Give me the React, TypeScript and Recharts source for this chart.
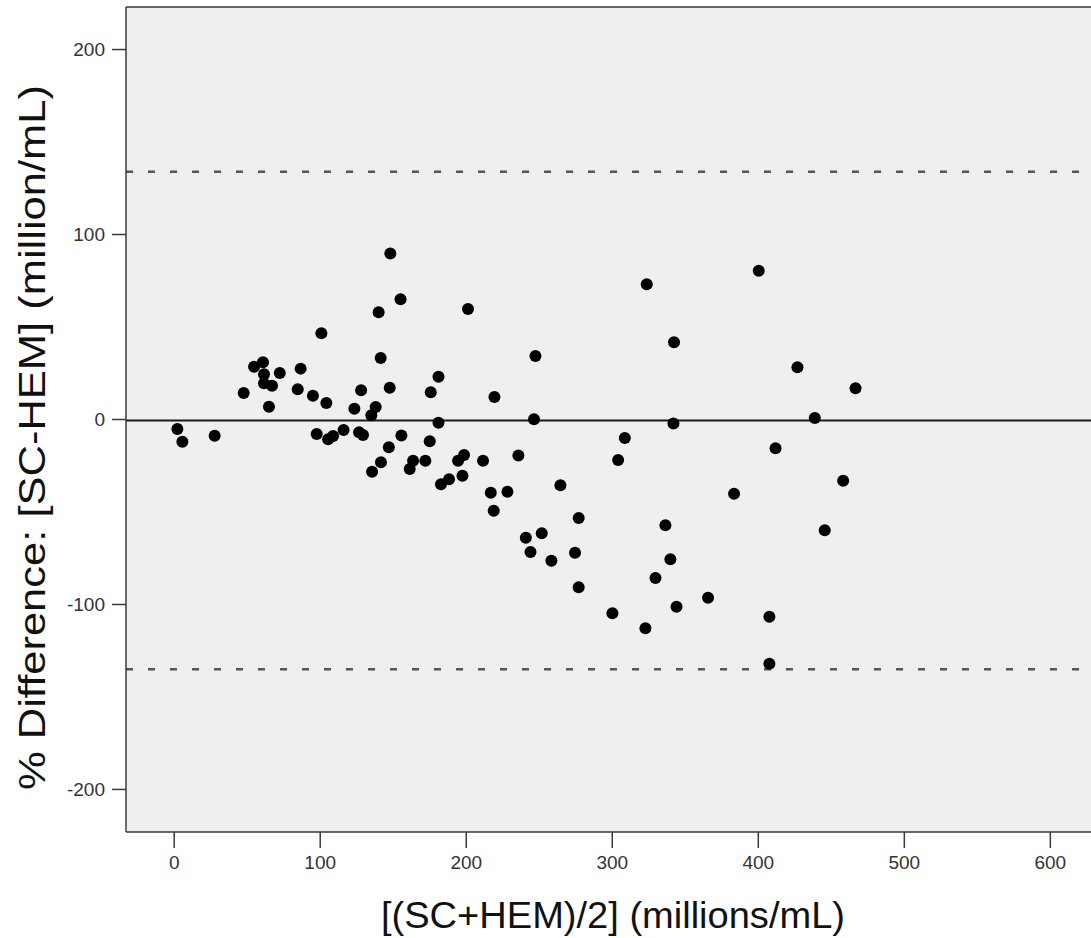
import {
  ScatterChart,
  Scatter,
  XAxis,
  YAxis,
  CartesianGrid,
  ReferenceLine,
  Label,
} from "recharts";

// Bland-Altman: mean of the two methods vs. difference
const meanValues = [
  2.2, 5.6, 27.7, 47.6, 54.7, 60.8, 61.5, 61.5, 64.9, 67, 72.3, 84.6, 86.6, 95,
  97.6, 100.8, 104.2, 105.4, 108.8, 116, 123.4, 126.6, 128, 129.3, 135, 135.5,
  138, 140, 141.4, 141.6, 147, 147.6, 148, 155, 155.6, 161.3, 163.6, 172, 175,
  175.7, 181, 181, 182.7, 188.2, 194.4, 197.4, 198.5, 201.2, 211.5, 216.8,
  218.8, 219.3, 228.2, 235.7, 240.8, 244, 246.4, 247.4, 251.7, 258.3, 264.5,
  274.5, 277, 277, 300.1, 304, 308.6, 322.7, 323.6, 329.6, 336.4, 339.8, 341.9,
  342.3, 344, 365.6, 383.4, 400.3, 407.6, 407.6, 411.8, 426.8, 438.7, 445.5,
  458.1, 466.6,
];
const diffValues = [
  -5.1, -12, -8.8, 14.3, 28.5, 30.9, 24.4, 19.6, 6.9, 18.3, 25.1, 16.3, 27.5,
  12.9, -7.8, 46.6, 8.9, -10.7, -8.9, -5.7, 5.8, -6.9, 15.8, -8.4, 2.3, -28.2,
  6.8, 58, 33.2, -23.1, -15, 17.2, 89.8, 65, -8.7, -26.8, -22.3, -22.3, -11.8,
  14.7, 23.1, -1.7, -35, -32.3, -22.3, -30.4, -19.2, 59.7, -22.3, -39.6, -49.3,
  12.2, -39, -19.5, -63.9, -71.6, 0.1, 34.3, -61.5, -76.3, -35.6, -72, -53.2,
  -90.7, -104.8, -21.9, -10, -112.9, 73.1, -85.7, -57.2, -75.6, -2.1, 41.7,
  -101.2, -96.3, -40.1, 80.4, -106.6, -132, -15.5, 28.2, 0.8, -59.9, -33.1,
  16.9,
];

const meanDiff = -0.5;
const upperLimit = 134;
const lowerLimit = -135;

const xTicks = [0, 100, 200, 300, 400, 500, 600];
const yTicks = [-200, -100, 0, 100, 200];

const points = meanValues.map((x, i) => ({ x, y: diffValues[i] }));

const font = "'Liberation Sans', Arial, sans-serif";
const axisColor = "#3a3a3a";

function XTitle({ viewBox }: any) {
  const cx = viewBox.x + viewBox.width / 2;
  return (
    <text
      x={cx}
      y={viewBox.y + 96}
      textAnchor="middle"
      fontFamily={font}
      fontSize={36}
      textLength={464}
      lengthAdjust="spacingAndGlyphs"
      fill="#111"
    >
      [(SC+HEM)/2] (millions/mL)
    </text>
  );
}

function YTitle({ viewBox }: any) {
  const cy = viewBox.y + viewBox.height / 2 + 18;
  const x = 45;
  return (
    <text
      x={x}
      y={cy}
      transform={`rotate(-90 ${x} ${cy})`}
      textAnchor="middle"
      fontFamily={font}
      fontSize={37}
      textLength={705}
      lengthAdjust="spacingAndGlyphs"
      fill="#111"
    >
      % Difference: [SC-HEM] (million/mL)
    </text>
  );
}

const Dot = (props: any) => (
  <circle cx={props.cx} cy={props.cy} r={6} fill="#000" />
);

export default function App() {
  return (
    <div
      style={{
        position: "absolute",
        left: 0,
        top: 0,
        width: 1091,
        height: 938,
        overflow: "hidden",
        background: "#fff",
      }}
    >
      <ScatterChart
        width={1100}
        height={938}
        margin={{ top: 7, right: 0, left: 0, bottom: 0 }}
      >
        <CartesianGrid fill="#efefef" horizontal={false} vertical={false} />
        <XAxis
          type="number"
          dataKey="x"
          domain={[-33, 634]}
          ticks={xTicks}
          allowDataOverflow
          height={106}
          tickSize={16}
          tickMargin={8}
          stroke={axisColor}
          axisLine={{ stroke: axisColor, strokeWidth: 1.5 }}
          tickLine={{ stroke: axisColor, strokeWidth: 1.5 }}
          tick={{ fill: "#333", fontSize: 19, fontFamily: font }}
        >
          <Label content={<XTitle />} />
        </XAxis>
        <YAxis
          type="number"
          dataKey="y"
          domain={[-223, 223]}
          ticks={yTicks}
          allowDataOverflow
          width={126}
          tickSize={14}
          tickMargin={7}
          stroke={axisColor}
          axisLine={{ stroke: axisColor, strokeWidth: 1.5 }}
          tickLine={{ stroke: axisColor, strokeWidth: 1.5 }}
          tick={{ fill: "#333", fontSize: 19, fontFamily: font }}
        >
          <Label content={<YTitle />} />
        </YAxis>
        <ReferenceLine y={223} stroke={axisColor} strokeWidth={1.5} />
        <ReferenceLine
          y={upperLimit}
          stroke="#555"
          strokeWidth={2.5}
          strokeDasharray="7 15"
        />
        <ReferenceLine
          y={lowerLimit}
          stroke="#555"
          strokeWidth={2.5}
          strokeDasharray="7 15"
        />
        <ReferenceLine y={meanDiff} stroke="#1a1a1a" strokeWidth={2} />
        <Scatter
          data={points}
          fill="#000"
          shape={Dot}
          isAnimationActive={false}
        />
      </ScatterChart>
    </div>
  );
}
